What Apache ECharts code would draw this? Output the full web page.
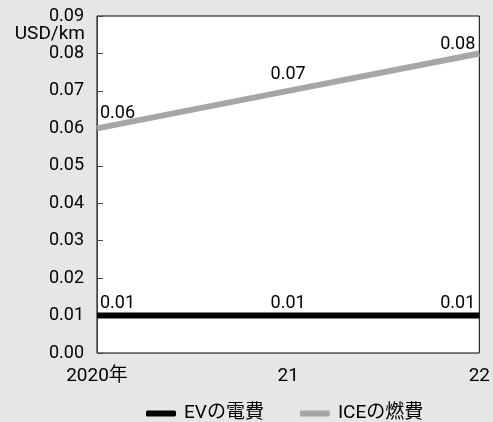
<!DOCTYPE html>
<html><head><meta charset="utf-8">
<script src="https://cdn.jsdelivr.net/npm/echarts@6/dist/echarts.min.js"></script>
<style>html,body{margin:0;padding:0;background:#e6e6e6}#c{width:493px;height:422px}</style>
</head><body><div id="c"></div>
<script>
var categories = ['2020年', '21', '22'];
var evCost = [0.01, 0.01, 0.01];
var iceCost = [0.06, 0.07, 0.08];
var seriesNames = ['EVの電費', 'ICEの燃費'];
var seriesColors = ['#000000', '#a6a6a6'];
var yUnit = 'USD/km';

var FONT = 'Roboto, "Noto Sans CJK JP", sans-serif';
var FS = 19;
function labelled(arr, dists) {
  return arr.map(function (v, i) {
    var last = arr.length - 1;
    var align = i === 0 ? 'left' : (i === last ? 'right' : 'center');
    var off = i === 0 ? [3, 0] : (i === last ? [-4, 0] : [0, 0]);
    return { value: v, label: { align: align, offset: off, distance: dists[i] } };
  });
}
function makeSeries(name, data, color, dists) {
  return {
    name: name, type: 'line', data: labelled(data, dists),
    symbol: 'circle', symbolSize: 2, showSymbol: true,
    itemStyle: { color: 'rgba(0,0,0,0)', borderWidth: 0 },
    lineStyle: { width: 6, color: color },
    label: { show: true, position: 'top', color: '#000', fontSize: 18, fontFamily: FONT }
  };
}
var chart = echarts.init(document.getElementById('c'));
chart.setOption({
  backgroundColor: '#e6e6e6',
  animation: false,
  textStyle: { fontFamily: FONT },
  grid: { left: 97, right: 13, top: 16, bottom: 69, show: true, backgroundColor: '#fff', borderColor: '#000', borderWidth: 1 },
  legend: {
    top: 399, left: 141, padding: 5, itemWidth: 30, itemHeight: 6, itemGap: 36,
    icon: 'roundRect',
    textStyle: { fontSize: FS, color: '#000', fontFamily: FONT, padding: [0, 0, 0, 3] },
    data: seriesNames.map(function (n, i) { return { name: n, itemStyle: { color: seriesColors[i], opacity: 1 } }; })
  },
  xAxis: {
    type: 'category', data: categories, boundaryGap: false,
    axisLine: { show: false }, axisTick: { show: false },
    axisLabel: { color: '#000', fontSize: FS, margin: 14, fontFamily: FONT }
  },
  yAxis: {
    type: 'value', min: 0, max: 0.09, interval: 0.01,
    splitLine: { show: false },
    axisLine: { show: true, lineStyle: { color: '#444', width: 1 } },
    axisTick: { show: true, inside: true, length: 6, lineStyle: { color: '#444' } },
    axisLabel: { color: '#000', fontSize: 18, margin: 13, fontFamily: FONT, formatter: function (v) { return v.toFixed(2); } }
  },
  graphic: [{ type: 'text', right: 493 - 85, top: 25, style: { text: yUnit, fontSize: FS, fill: '#000', fontFamily: FONT, textAlign: 'right' } }],
  series: [
    makeSeries(seriesNames[0], evCost, seriesColors[0], [2, 2, 2]),
    makeSeries(seriesNames[1], iceCost, seriesColors[1], [5, 6, -1])
  ]
});
</script></body></html>
